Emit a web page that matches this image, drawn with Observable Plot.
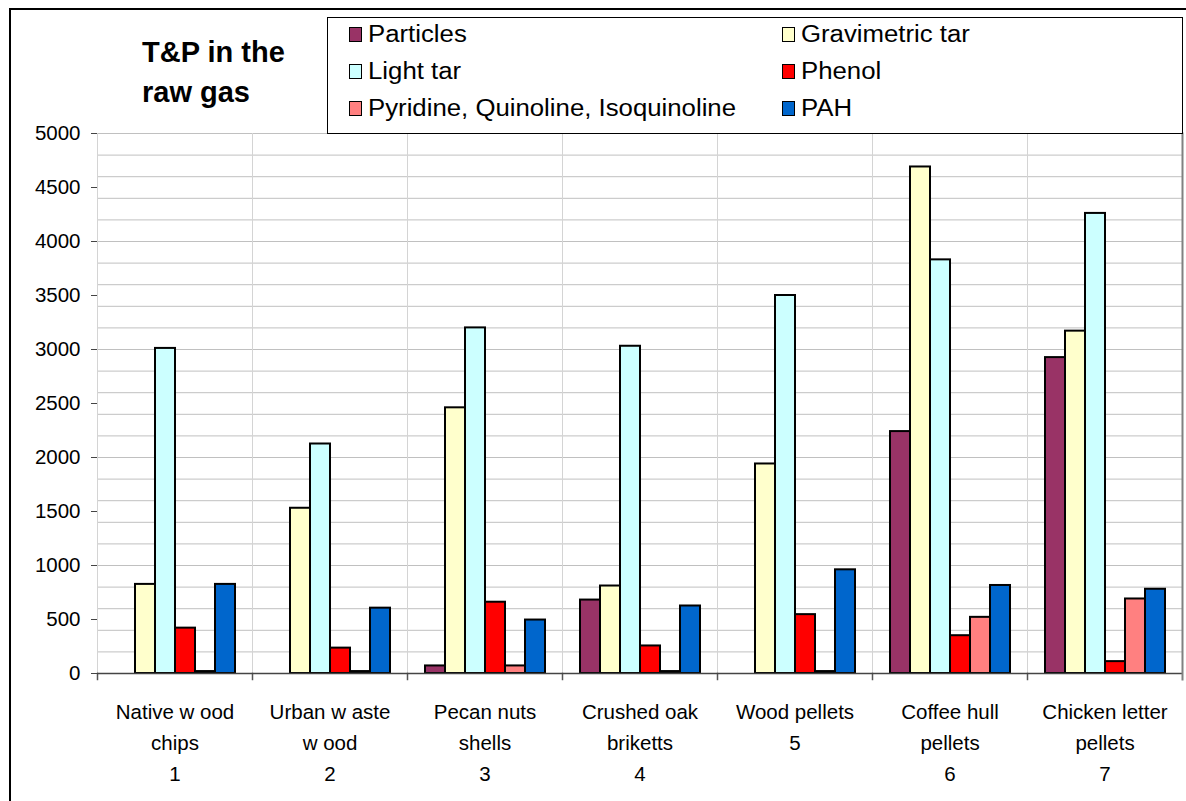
<!DOCTYPE html>
<html>
<head>
<meta charset="utf-8">
<script src="https://cdn.jsdelivr.net/npm/d3@7"></script>
<script src="https://cdn.jsdelivr.net/npm/@observablehq/plot@0.6"></script>
<style>
  html, body { margin: 0; padding: 0; background: #fff; overflow: hidden; }
  #wrap { position: relative; width: 1186px; height: 801px; overflow: hidden; font-family: "Liberation Sans", Arial, sans-serif; color: #000; }
  #border { position: absolute; left: 9px; top: 8px; width: 1300px; height: 900px; border: 2px solid #000; box-sizing: border-box; }
  #title { position: absolute; left: 142px; top: 32px; font-weight: bold; font-size: 29px; line-height: 40px; white-space: nowrap; }
  #legend { position: absolute; left: 327px; top: 17px; width: 856px; height: 117px; border: 1px solid #000; box-sizing: border-box; background: #fff; z-index: 2; }
  .item { position: absolute; height: 37px; display: flex; align-items: center; font-size: 23px; white-space: nowrap; }
  .sw { width: 13px; height: 15px; border: 1.5px solid #000; margin-right: 6px; box-sizing: border-box; flex: none; }
  .tx { display: inline-block; transform: scaleX(1.12); transform-origin: left center; }
  #chart { position: absolute; left: 0; top: 120px; }
</style>
</head>
<body>
<div id="wrap">
  <div id="border"></div>
  <div id="title">T&amp;P in the<br>raw gas</div>
  <div id="legend"></div>
  <div id="chart"></div>
</div>
<script>
const categories = [
  "Native w ood\nchips\n1",
  "Urban w aste\nw ood\n2",
  "Pecan nuts\nshells\n3",
  "Crushed oak\nbriketts\n4",
  "Wood pellets\n5",
  "Coffee hull\npellets\n6",
  "Chicken letter\npellets\n7"
];
const series = ["Particles", "Gravimetric tar", "Light tar", "Phenol", "Pyridine, Quinoline, Isoquinoline", "PAH"];
const colors = ["#993366", "#FFFFCC", "#CCFFFF", "#FF0000", "#FF8080", "#0066CC"];

const particles   = [null, null, 70, 680, null, 2240, 2925];
const gravimetric = [825, 1530, 2460, 810, 1940, 4690, 3170];
const lightTar    = [3010, 2125, 3200, 3030, 3500, 3830, 4260];
const phenol      = [420, 235, 660, 255, 545, 350, 110];
const pyridine    = [18, 18, 70, 18, 18, 520, 690];
const pah         = [825, 605, 495, 625, 960, 815, 780];

const yTicks = [0, 500, 1000, 1500, 2000, 2500, 3000, 3500, 4000, 4500, 5000];

const seriesValues = [particles, gravimetric, lightTar, phenol, pyridine, pah];
const rows = [];
categories.forEach((cat, i) => {
  series.forEach((s, j) => {
    const v = seriesValues[j][i];
    if (v != null) rows.push({cat, series: s, value: v});
  });
});

// Legend (two columns, three rows)
const legend = document.getElementById("legend");
const colLeft = [21, 454];
const rowTop = [-2.5, 34.5, 71.5];
series.forEach((s, j) => {
  const it = document.createElement("div");
  it.className = "item";
  it.style.left = colLeft[j % 2] + "px";
  it.style.top = rowTop[Math.floor(j / 2)] + "px";
  const sw = document.createElement("span");
  sw.className = "sw";
  sw.style.background = colors[j];
  const tx = document.createElement("span");
  tx.className = "tx";
  tx.textContent = s;
  it.appendChild(sw);
  it.appendChild(tx);
  legend.appendChild(it);
});

const chart = Plot.plot({
  width: 1186,
  height: 680,
  marginTop: 13,
  marginBottom: 127,
  marginLeft: 97,
  marginRight: 4,
  style: {fontFamily: "'Liberation Sans', Arial, sans-serif", fontSize: "20px", color: "#000", background: "transparent"},
  fx: {domain: categories, padding: 0, label: null},
  x: {domain: series, paddingInner: 0, paddingOuter: 0.7, align: 0.5, axis: null},
  y: {domain: [0, 5000], label: null},
  color: {domain: series, range: colors},
  marks: [
    Plot.gridY({ticks: 20, stroke: "#c0c0c0", strokeOpacity: 1}),
    Plot.frame({anchor: "left", stroke: "#d4d4d4", strokeWidth: 1}),
    Plot.frame({anchor: "left", stroke: "#555", strokeWidth: 1.5, insetTop: 540, insetBottom: -6}),
    Plot.barY(rows, {fx: "cat", x: "series", y: "value", fill: "series", stroke: "#000", strokeWidth: 2}),
    Plot.ruleY([0], {stroke: "#444", strokeWidth: 1.5}),
    Plot.axisY({ticks: yTicks, tickFormat: d3.format("d"), tickSize: 6, tickPadding: 11, line: true, stroke: "#444", fontSize: 20.5, label: null}),
    Plot.axisFx({anchor: "bottom", tickSize: 0, tickPadding: 24, lineHeight: 1.5, fontSize: 20.5, label: null}),
    Plot.frame({facet: "super", anchor: "right", stroke: "#808080", strokeWidth: 2, insetBottom: -6})
  ]
});
document.getElementById("chart").appendChild(chart);
</script>
</body>
</html>
